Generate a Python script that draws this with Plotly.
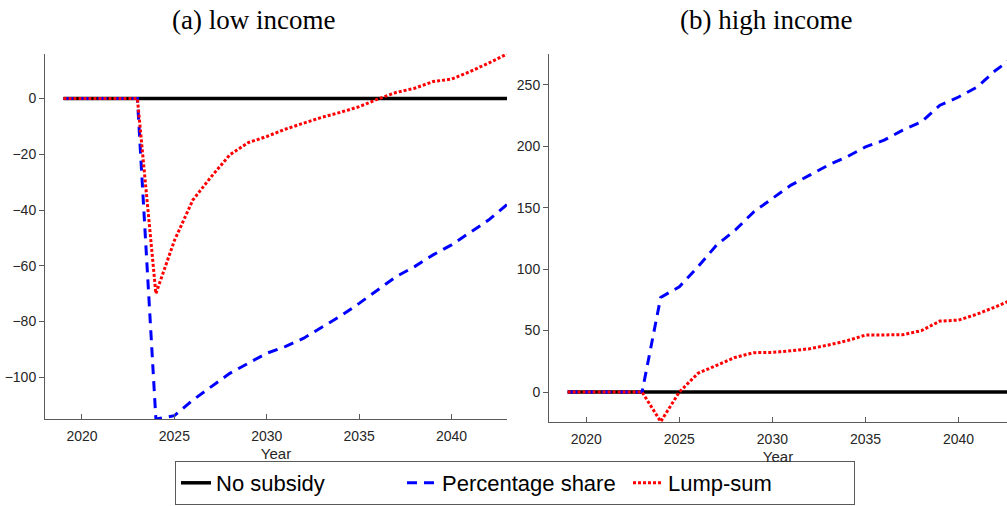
import plotly.graph_objects as go

years = list(range(2019, 2044))

# (a) low income
low_no_subsidy = [0] * 25
low_percentage = [0, 0, 0, 0, 0, -115, -113.8, -108.2, -103.4, -98.6, -95.0, -91.4, -89.0,
                  -86.0, -82.0, -78.0, -73.5, -68.7, -63.9, -60.3, -56.1, -52.5, -48.0,
                  -43.6, -38.0]
low_lumpsum = [0, 0, 0, 0, 0, -70.0, -51.0, -36.4, -28.0, -20.2, -15.8, -13.6, -11.0,
               -8.8, -6.7, -4.9, -2.9, -0.2, 2.2, 3.7, 6.1, 7.0, 9.7, 12.7, 16.0]

# (b) high income
high_no_subsidy = [0] * 25
high_percentage = [0, 0, 0, 0, 0, 77.0, 85.6, 101.9, 119.5, 131.7, 146.6, 157.5, 168.3,
                   176.4, 184.6, 191.3, 199.4, 204.9, 213.0, 219.8, 233.3, 240.0, 248.2,
                   261.8, 273.0]
high_lumpsum = [0, 0, 0, 0, 0, -24.1, 0.0, 15.2, 22.0, 28.2, 32.0, 32.2, 33.6, 35.2,
                38.2, 41.7, 46.3, 46.6, 46.6, 49.9, 57.7, 58.5, 63.4, 69.4, 76.0]

series_names = ["No subsidy", "Percentage share", "Lump-sum"]
panel_titles = ["(a) low income", "(b) high income"]
x_ticks = [2020, 2025, 2030, 2035, 2040]
low_y_ticks = [-100, -80, -60, -40, -20, 0]
high_y_ticks = [0, 50, 100, 150, 200, 250]

W, H = 1007, 506
styles = [
    dict(color="black", width=3.5),
    dict(color="#0000ff", width=3, dash="10px,7px"),
    dict(color="#ff0000", width=3, dash="3px,2px"),
]

fig = go.Figure()
panels = [
    ("x", "y", [low_no_subsidy, low_percentage, low_lumpsum], True),
    ("x2", "y2", [high_no_subsidy, high_percentage, high_lumpsum], False),
]
for xa, ya, data, show in panels:
    for name, vals, st in zip(series_names, data, styles):
        fig.add_trace(go.Scatter(x=years, y=vals, mode="lines", name=name, line=st,
                                 xaxis=xa, yaxis=ya, showlegend=show, hoverinfo="skip"))

axis_common = dict(showline=True, linecolor="#5a5a5a", linewidth=1, showgrid=False,
                   zeroline=False, tickcolor="#5a5a5a", ticklen=5, automargin=False,
                   tickfont=dict(family="Liberation Sans, Arial", size=14, color="#262626"))
title_font = dict(family="Liberation Sans, Arial", size=15, color="#262626")
fig.update_layout(
    width=W, height=H,
    margin=dict(l=0, r=0, t=0, b=0, autoexpand=False),
    plot_bgcolor="white", paper_bgcolor="white",
    xaxis=dict(domain=[45 / W, 507 / W], anchor="y", range=[2018, 2043],
               tickvals=x_ticks, ticks="inside", ticklabelstandoff=4,
               title=dict(text="Year", standoff=5, font=title_font),
               **axis_common),
    yaxis=dict(domain=[1 - 419 / H, 1 - 54 / H], anchor="x", range=[-115, 16],
               tickvals=low_y_ticks, ticks="outside", **axis_common),
    xaxis2=dict(domain=[549 / W, 1.0], anchor="y2", range=[2018, 2042.6],
                tickvals=x_ticks, ticks="inside", ticklabelstandoff=4,
                title=dict(text="Year", standoff=5, font=title_font),
                **axis_common),
    yaxis2=dict(domain=[1 - 422 / H, 1 - 54 / H], anchor="x2", range=[-24.4, 275],
                tickvals=high_y_ticks, ticks="outside", **axis_common),
    legend=dict(orientation="h", x=515 / W, xanchor="center", y=1 - 505 / H, yanchor="bottom",
                bordercolor="#5a5a5a", borderwidth=1, bgcolor="white",
                font=dict(family="Liberation Sans, Arial", size=22, color="black"),
                entrywidth=181, itemwidth=30, tracegroupgap=0),
    annotations=[
        dict(text=panel_titles[0], x=253 / W, y=1 - 20 / H, xref="paper", yref="paper",
             showarrow=False, xanchor="center", yanchor="middle",
             font=dict(family="Liberation Serif, Times New Roman", size=27, color="black")),
        dict(text=panel_titles[1], x=766 / W, y=1 - 20 / H, xref="paper", yref="paper",
             showarrow=False, xanchor="center", yanchor="middle",
             font=dict(family="Liberation Serif, Times New Roman", size=27, color="black")),
    ],
)
fig.write_html("out.html", config={"displayModeBar": False, "staticPlot": True},
               post_script="document.body.style.margin='0';document.body.style.overflow='hidden';")
